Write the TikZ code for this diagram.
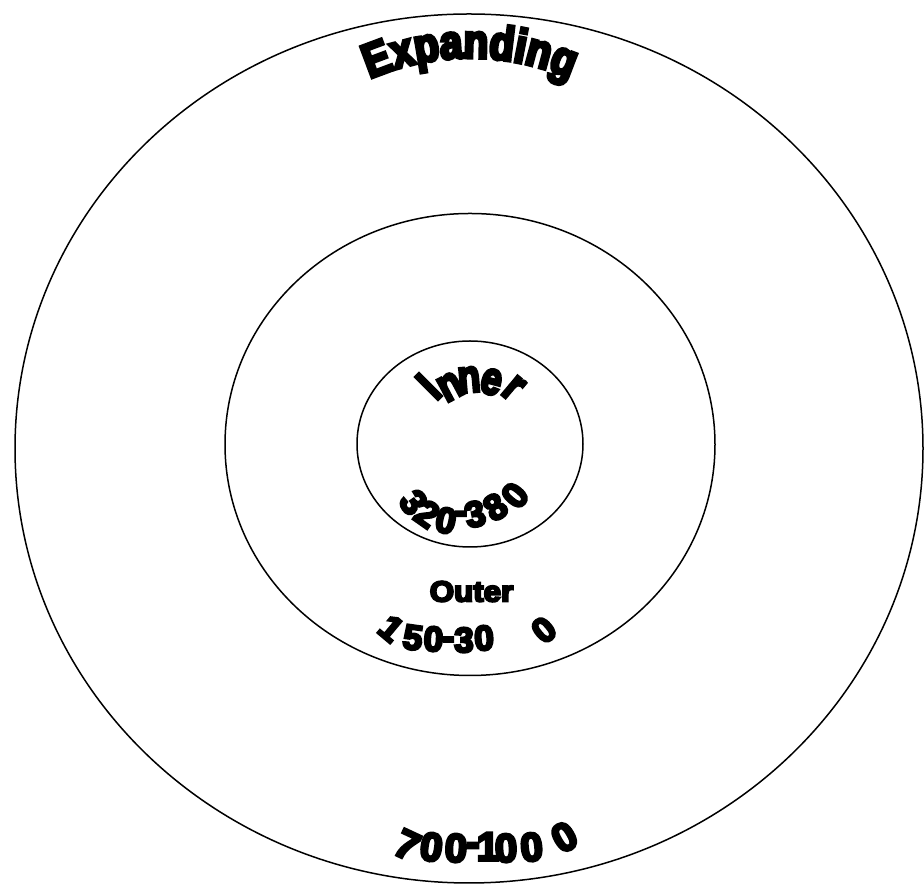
\documentclass[tikz,border=0pt]{standalone}
\usepackage{fontspec}
\setmainfont{Liberation Sans}[BoldFeatures={FakeBold=7}]
\newfontfamily\hvc{Liberation Sans}[FakeStretch=0.84, BoldFeatures={FakeBold=7}]
\usetikzlibrary{decorations.text}
\newcommand\fsz[1]{\fontsize{#1}{#1}\selectfont\bfseries}
\begin{document}
\begin{tikzpicture}[x=1pt,y=1pt,
  ring/.style={draw=black, line width=1.5pt},
  chN/.style={font=\fsz{46}, inner sep=0pt, text height=33.1pt, text depth=0pt, anchor=center, xscale=0.8},
  chS/.style={font=\fsz{36}, inner sep=0pt, text height=25.9pt, text depth=0pt, anchor=center},
  chA/.style={font=\fsz{35}, inner sep=0pt, text height=25.2pt, text depth=0pt, anchor=center},
  chB/.style={font=\fsz{40}, inner sep=0pt, text height=28.8pt, text depth=0pt, anchor=center}]
\useasboundingbox (0,0) rectangle (924,888);
\coordinate (oc) at (469,439.5);
\coordinate (mc) at (470,443.5);
\coordinate (ic) at (470,444);
\draw[ring] (oc) ellipse [x radius=454, y radius=434.5];
\draw[ring] (mc) ellipse [x radius=245, y radius=231];
\draw[ring] (ic) ellipse [x radius=113, y radius=103];
% Expanding
\coordinate (ec) at (470,580);
\path[decorate, decoration={text along path, text={|\hvc\bfseries\fontsize{48}{48}\selectfont|Expanding}, text align=center}]
  ([shift={(150:250)}]ec) arc[start angle=150, end angle=30, radius=250];
% Inner
\foreach \c/\x/\y/\r [count=\i] in {I/428/502/45, n/448.4/505/28, n/468.7/512.4/5, e/492.4/510.3/-15, r/516/503.1/-40}
  \node[rotate=\r, chN] (n\i) at (\x,\y) {\c};
% 320-380
\foreach \c/\x/\y/\r [count=\i] in {3/414/386/-55, 2/427.5/374.5/-35, 0/446/368/-12, -/461/377.8/0, 3/475/374.5/12, 8/495/381.5/32, 0/514.5/393/50}
  \node[chS, rotate=\r] (s\i) at (\x,\y) {\c};
% Outer
\node[font=\fsz{29}, xscale=1.08, inner sep=0pt] (outer) at (471.5,296.5) {Outer};
% 150-300
\foreach \c/\x/\y/\r [count=\i] in {1/391.5/260/-40, 5/413/251/-8, 0/433.5/249.5/-3, -/448.5/252/0, 3/464/248.5/0, 0/484/250.5/3, 0/543.5/258.5/40}
  \node[chA, rotate=\r] (m\i) at (\x,\y) {\c};
% 700-1000
\foreach \c/\x/\y/\r [count=\i] in {7/407.5/43.5/-25, 0/431.5/41.5/-8, 0/456/40.5/-3, -/473/46.5/0, 1/488/42/0, 0/506/40.5/2, 0/531.5/41.5/6, 0/564/51.5/30}
  \node[chB, rotate=\r] (o\i) at (\x,\y) {\c};
\end{tikzpicture}
\end{document}
